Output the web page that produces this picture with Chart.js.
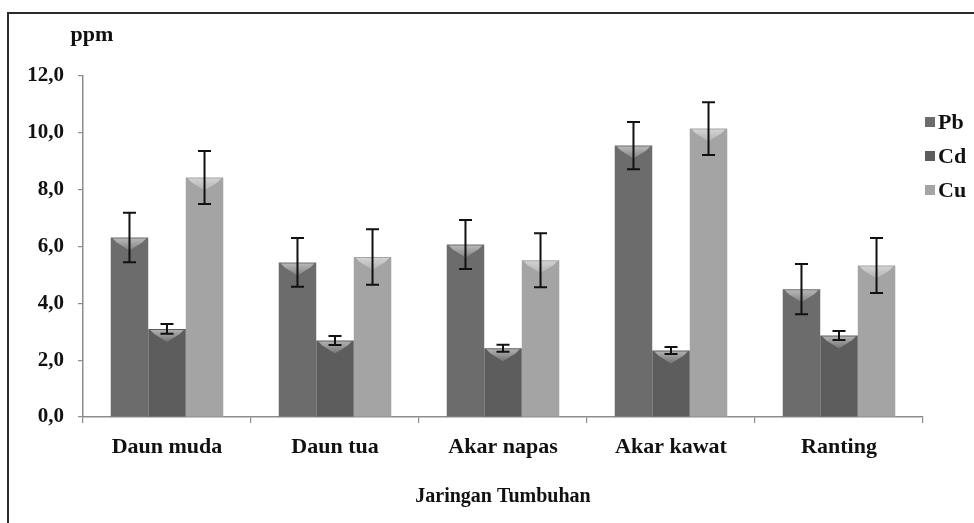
<!DOCTYPE html>
<html>
<head>
<meta charset="utf-8">
<script src="https://cdn.jsdelivr.net/npm/chart.js@4.4.1/dist/chart.umd.min.js"></script>
<style>
  html, body { margin: 0; padding: 0; background: #fff; overflow: hidden; }
  #wrap { position: relative; width: 974px; height: 523px; }
  #frame { position: absolute; left: 7px; top: 12px; width: 1100px; height: 700px;
           border: 2px solid #2b2b2b; box-sizing: border-box; pointer-events: none; }
  canvas { position: absolute; left: 0; top: 0; }
</style>
</head>
<body>
<div id="wrap">
  <canvas id="c" width="974" height="523"></canvas>
  <div id="frame"></div>
</div>
<script>
const categories = ['Daun muda', 'Daun tua', 'Akar napas', 'Akar kawat', 'Ranting'];
const seriesNames = ['Pb', 'Cd', 'Cu'];
const pbValues = [6.32, 5.44, 6.07, 9.55, 4.50];
const cdValues = [3.10, 2.69, 2.42, 2.34, 2.87];
const cuValues = [8.43, 5.63, 5.52, 10.15, 5.33];
const pbErr = [0.87, 0.86, 0.86, 0.83, 0.88];
const cdErr = [0.17, 0.16, 0.12, 0.12, 0.16];
const cuErr = [0.93, 0.98, 0.95, 0.93, 0.97];
const yTicks = [0, 2, 4, 6, 8, 10, 12];
const yTitle = 'ppm';
const xTitle = 'Jaringan Tumbuhan';

const baseColors = ['#6c6c6c', '#5d5d5d', '#a4a4a4'];
const edgeColors = ['#8a8a8a', '#7a7a7a', '#c0c0c0'];
const innerColors = ['#626262', '#545454', '#999999'];
const FONT = "'Liberation Serif', 'Times New Roman', serif";

function barFill(i) {
  return function(ctx) {
    const el = ctx.element;
    if (!el || el.width === undefined || isNaN(el.x)) return baseColors[i];
    const c = ctx.chart.ctx;
    const l = el.x - el.width / 2, r = el.x + el.width / 2;
    const g = c.createLinearGradient(l, 0, r, 0);
    g.addColorStop(0, edgeColors[i]);
    g.addColorStop(0.06, innerColors[i]);
    g.addColorStop(0.5, baseColors[i]);
    g.addColorStop(0.94, innerColors[i]);
    g.addColorStop(1, edgeColors[i]);
    return g;
  };
}

const errSets = [pbErr, cdErr, cuErr];

const bevelPlugin = {
  id: 'bevel',
  afterDatasetsDraw(chart) {
    const c = chart.ctx;
    chart.data.datasets.forEach((ds, di) => {
      const meta = chart.getDatasetMeta(di);
      meta.data.forEach((el) => {
        const l = el.x - el.width / 2, r = el.x + el.width / 2, t = el.y;
        c.save();
        const g = c.createLinearGradient(0, t, 0, t + 13);
        g.addColorStop(0, 'rgba(255,255,255,0.55)');
        g.addColorStop(1, 'rgba(255,255,255,0.15)');
        c.fillStyle = g;
        c.beginPath();
        c.moveTo(l + 2, t + 1);
        c.lineTo(r - 2, t + 1);
        c.lineTo(r - 6, t + 5);
        c.lineTo(el.x, t + 13);
        c.lineTo(l + 6, t + 5);
        c.closePath();
        c.fill();
        c.restore();
      });
    });
  }
};

const errorBarPlugin = {
  id: 'errbars',
  afterDatasetsDraw(chart) {
    const c = chart.ctx;
    const ys = chart.scales.y;
    chart.data.datasets.forEach((ds, di) => {
      const meta = chart.getDatasetMeta(di);
      meta.data.forEach((el, i) => {
        const v = ds.data[i], e = errSets[di][i];
        const yt = ys.getPixelForValue(v + e);
        const yb = ys.getPixelForValue(v - e);
        const x = el.x;
        c.save();
        c.strokeStyle = '#111';
        c.lineWidth = 2;
        c.beginPath();
        c.moveTo(x, yt); c.lineTo(x, yb);
        c.moveTo(x - 6.5, yt); c.lineTo(x + 6.5, yt);
        c.moveTo(x - 6.5, yb); c.lineTo(x + 6.5, yb);
        c.stroke();
        c.restore();
      });
    });
  }
};

const textPlugin = {
  id: 'texts',
  afterDraw(chart) {
    const c = chart.ctx;
    c.save();
    c.fillStyle = '#111';
    c.font = 'bold 22px ' + FONT;
    c.textAlign = 'center';
    c.textBaseline = 'middle';
    c.fillText(yTitle, 92, 35);
    // legend
    const ly = [122, 156, 190];
    c.textAlign = 'left';
    c.font = 'bold 22px ' + FONT;
    seriesNames.forEach((n, i) => {
      c.fillStyle = baseColors[i];
      c.fillRect(925, ly[i] - 5, 10, 10);
      c.fillStyle = '#111';
      c.fillText(n, 938, ly[i] + 1);
    });
    c.restore();
  }
};

new Chart(document.getElementById('c'), {
  type: 'bar',
  data: {
    labels: categories,
    datasets: [
      { label: seriesNames[0], data: pbValues, backgroundColor: barFill(0) },
      { label: seriesNames[1], data: cdValues, backgroundColor: barFill(1) },
      { label: seriesNames[2], data: cuValues, backgroundColor: barFill(2) }
    ]
  },
  options: {
    responsive: false,
    animation: false,
    events: [],
    layout: { padding: { left: 10, right: 51, top: 76, bottom: 0 } },
    datasets: { bar: { categoryPercentage: 0.67, barPercentage: 1.0, borderWidth: 0 } },
    plugins: { legend: { display: false }, tooltip: { enabled: false }, title: { display: false } },
    scales: {
      x: {
        afterFit(s) { s.height = 106; },
        grid: { display: true, drawOnChartArea: false, offset: true, tickLength: 6, color: '#8c8c8c', lineWidth: 1.2 },
        border: { display: true, color: '#8c8c8c', width: 1.5 },
        ticks: { color: '#111', padding: 11, font: { family: FONT, size: 22, weight: 'bold' }, maxRotation: 0 },
        title: { display: true, text: xTitle, color: '#111', padding: { top: 4, bottom: 14 },
                 font: { family: FONT, size: 20, weight: 'bold' } }
      },
      y: {
        min: 0, max: 12,
        afterFit(s) { s.width = 73; },
        afterBuildTicks(s) { s.ticks = yTicks.map(v => ({ value: v })); },
        grid: { display: true, drawOnChartArea: false, tickLength: 5, color: '#8c8c8c', lineWidth: 1.2 },
        border: { display: true, color: '#8c8c8c', width: 1.5 },
        ticks: {
          color: '#111', padding: 14,
          font: { family: FONT, size: 21, weight: 'bold' },
          callback: (v) => Number(v).toFixed(1).replace('.', ',')
        }
      }
    }
  },
  plugins: [bevelPlugin, errorBarPlugin, textPlugin]
});
</script>
</body>
</html>
